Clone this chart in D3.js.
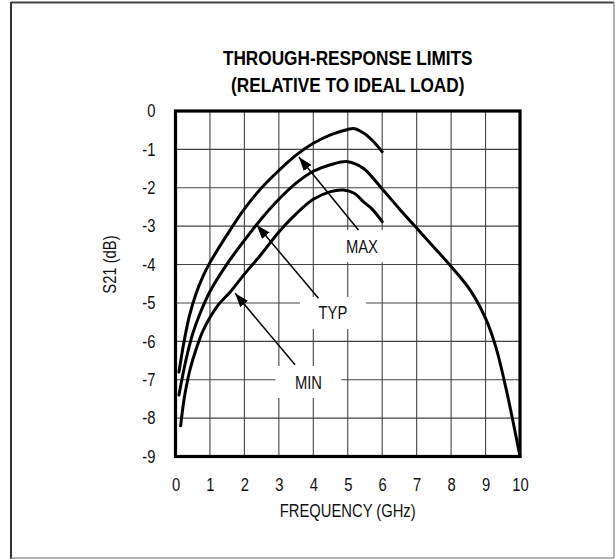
<!DOCTYPE html>
<html>
<head>
<meta charset="utf-8">
<script src="https://cdn.jsdelivr.net/npm/d3@7"></script>
<style>
    body { margin: 0; background: #fff; }
    text { font-family: "Liberation Sans Narrow", "Arial Narrow", "Liberation Sans", sans-serif; }
</style>
</head>
<body>
<div id="graphContainer"></div>
<script>
"use strict";
// curve data (GHz, dB)
const maxFreq = [0.1, 0.25, 0.4, 0.6, 0.8, 1, 1.5, 2, 2.5, 3, 3.5, 4, 4.5, 5, 5.2, 5.5, 5.75, 6]
const maxS21 = [-6.8, -6.0, -5.35, -4.75, -4.3, -3.95, -3.22, -2.55, -2.0, -1.55, -1.15, -0.84, -0.62, -0.48, -0.46, -0.6, -0.8, -1.06]

const typFreq = [0.1, 0.3, 0.5, 0.7, 1, 1.5, 2, 2.5, 3, 3.5, 4, 4.5, 5, 5.45, 6, 6.5, 7, 7.5, 8, 8.55, 9, 9.3, 9.6, 9.8, 10]
const typS21 = [-7.4, -6.5, -5.8, -5.3, -4.7, -3.98, -3.37, -2.8, -2.3, -1.88, -1.57, -1.4, -1.32, -1.49, -2.03, -2.55, -3.05, -3.55, -4.05, -4.66, -5.4, -6.15, -7.25, -8.1, -9]

const minFreq = [0.15, 0.25, 0.42, 0.6, 0.81, 1.2, 1.6, 2, 2.5, 3, 3.5, 4, 4.5, 4.87, 5.2, 5.45, 5.7, 6]
const minS21 = [-8.2, -7.5, -6.74, -6.2, -5.7, -5.1, -4.7, -4.25, -3.72, -3.15, -2.68, -2.3, -2.1, -2.06, -2.15, -2.36, -2.55, -2.88]

const xTicks = [0, 1, 2, 3, 4, 5, 6, 7, 8, 9, 10]
const yTicks = [0, -1, -2, -3, -4, -5, -6, -7, -8, -9]

// callouts: label, label position, arrow tail, arrow tip (data units)
const calloutLabels = ["MAX", "TYP", "MIN"]
const calloutAt = [[5.41, -3.52], [4.57, -5.26], [3.86, -7.06]]
const arrowFrom = [[5.31, -3.1], [4.15, -4.88], [3.47, -6.61]]
const arrowTo = [[3.58, -1.2], [2.36, -2.97], [1.73, -4.75]]

const titleLines = ["THROUGH-RESPONSE LIMITS", "(RELATIVE TO IDEAL LOAD)"]

;(function () {
    const measurements = {
        width: 615,
        height: 559,
        left: 175.5,
        right: 520,
        top: 111,
        bottom: 456.5
    }
    // no narrow face installed, so squeeze the regular one
    const squeeze = 0.82

    const svgContainer = d3.select('#graphContainer').append("svg")
        .attr('width', measurements.width)
        .attr('height', measurements.height)

    function condense(sel) {
        sel.each(function () {
            const w = this.getComputedTextLength()
            d3.select(this)
                .attr("textLength", w * squeeze)
                .attr("lengthAdjust", "spacingAndGlyphs")
        })
    }

    // outer frame
    svgContainer.append("line").attr("x1", 11).attr("y1", 2.5).attr("x2", 614).attr("y2", 2.5)
        .attr("stroke", "#444").attr("stroke-width", 2)
    svgContainer.append("line").attr("x1", 11).attr("y1", 2).attr("x2", 11).attr("y2", 559)
        .attr("stroke", "#333").attr("stroke-width", 2)
    svgContainer.append("line").attr("x1", 614).attr("y1", 2).attr("x2", 614).attr("y2", 558)
        .attr("stroke", "#999").attr("stroke-width", 1.5)
    svgContainer.append("line").attr("x1", 11).attr("y1", 558).attr("x2", 614).attr("y2", 558)
        .attr("stroke", "#999").attr("stroke-width", 1.5)

    let scaleX = d3.scaleLinear()
        .domain([0, 10])
        .range([measurements.left, measurements.right])
    let scaleY = d3.scaleLinear()
        .domain([0, -9])
        .range([measurements.top, measurements.bottom])

    // gridlines
    svgContainer.append("g")
        .selectAll("line")
        .data(xTicks.slice(1, -1))
        .enter()
        .append("line")
        .attr("x1", d => scaleX(d)).attr("x2", d => scaleX(d))
        .attr("y1", measurements.top).attr("y2", measurements.bottom)
        .attr("stroke", "#444").attr("stroke-width", 1.1)
    svgContainer.append("g")
        .selectAll("line")
        .data(yTicks.slice(1, -1))
        .enter()
        .append("line")
        .attr("y1", d => scaleY(d)).attr("y2", d => scaleY(d))
        .attr("x1", measurements.left).attr("x2", measurements.right)
        .attr("stroke", "#444").attr("stroke-width", 1.1)

    // axes: labels only, the frame is drawn separately
    let xAxis = d3.axisBottom(scaleX).tickValues(xTicks).tickSize(0).tickPadding(22)
    let yAxis = d3.axisLeft(scaleY).tickValues(yTicks).tickSize(0).tickPadding(20)
        .tickFormat(d => d === 0 ? "0" : "-" + Math.abs(d))

    const gx = svgContainer.append('g')
        .attr('transform', 'translate(0,' + measurements.bottom + ')')
        .call(xAxis)
    const gy = svgContainer.append('g')
        .attr('transform', 'translate(' + measurements.left + ',0)')
        .call(yAxis)
    ;[gx, gy].forEach(g => {
        g.select(".domain").remove()
        g.selectAll("text")
            .attr("font-family", null)
            .style("font-size", "18px")
            .attr("fill", "#111")
            .call(condense)
    })

    // curves
    const line = d3.line()
        .x(d => scaleX(d[0]))
        .y(d => scaleY(d[1]))
        .curve(d3.curveCatmullRom.alpha(0.5))

    const series = [
        d3.zip(maxFreq, maxS21),
        d3.zip(typFreq, typS21),
        d3.zip(minFreq, minS21)
    ]
    svgContainer.append("g")
        .selectAll("path")
        .data(series)
        .enter()
        .append("path")
        .attr("d", line)
        .attr("fill", "none")
        .attr("stroke", "#000")
        .attr("stroke-width", 3)
        .attr("stroke-linecap", "round")

    // plot frame
    svgContainer.append("rect")
        .attr("x", measurements.left).attr("y", measurements.top)
        .attr("width", measurements.right - measurements.left)
        .attr("height", measurements.bottom - measurements.top)
        .attr("fill", "none")
        .attr("stroke", "#000")
        .attr("stroke-width", 3.2)

    // label boxes hide the grid behind the callout text
    calloutLabels.forEach((label, i) => {
        const cx = scaleX(calloutAt[i][0])
        const cy = scaleY(calloutAt[i][1])
        svgContainer.append("rect")
            .attr("x", cx - 33).attr("y", cy - 16)
            .attr("width", 66).attr("height", 32)
            .attr("fill", "#fff")
    })

    svgContainer.append("defs").append("marker")
        .attr("id", "arrowHead")
        .attr("viewBox", "0 0 14 10")
        .attr("refX", 14).attr("refY", 5)
        .attr("markerWidth", 14).attr("markerHeight", 10)
        .attr("markerUnits", "userSpaceOnUse")
        .attr("orient", "auto")
        .append("path")
        .attr("d", "M0,0 L14,5 L0,10 Z")
        .attr("fill", "#000")

    calloutLabels.forEach((label, i) => {
        svgContainer.append("line")
            .attr("x1", scaleX(arrowFrom[i][0])).attr("y1", scaleY(arrowFrom[i][1]))
            .attr("x2", scaleX(arrowTo[i][0])).attr("y2", scaleY(arrowTo[i][1]))
            .attr("stroke", "#000")
            .attr("stroke-width", 1.5)
            .attr("marker-end", "url(#arrowHead)")
        svgContainer.append("text")
            .attr("x", scaleX(calloutAt[i][0]))
            .attr("y", scaleY(calloutAt[i][1]))
            .attr("dy", "0.36em")
            .style("text-anchor", "middle")
            .style("font-size", "18px")
            .attr("fill", "#111")
            .text(label)
            .call(condense)
    })

    // title
    titleLines.forEach((t, i) => {
        svgContainer.append("text")
            .attr("x", (measurements.left + measurements.right) / 2)
            .attr("y", 65 + i * 26.5)
            .style("text-anchor", "middle")
            .style("font-size", "21px")
            .style("font-weight", "bold")
            .attr("fill", "#000")
            .text(t)
            .call(condense)
    })

    // axis titles
    svgContainer.append("text")
        .attr("x", (measurements.left + measurements.right) / 2)
        .attr("y", 517)
        .style("text-anchor", "middle")
        .style("font-size", "18px")
        .attr("fill", "#111")
        .text("FREQUENCY (GHz)")
        .call(condense)

    svgContainer.append("text")
        .attr("transform", "translate(116," + scaleY(-4) + ") rotate(-90)")
        .style("text-anchor", "middle")
        .style("font-size", "18px")
        .attr("fill", "#111")
        .text("S21 (dB)")
        .call(condense)
})()
</script>
</body>
</html>
